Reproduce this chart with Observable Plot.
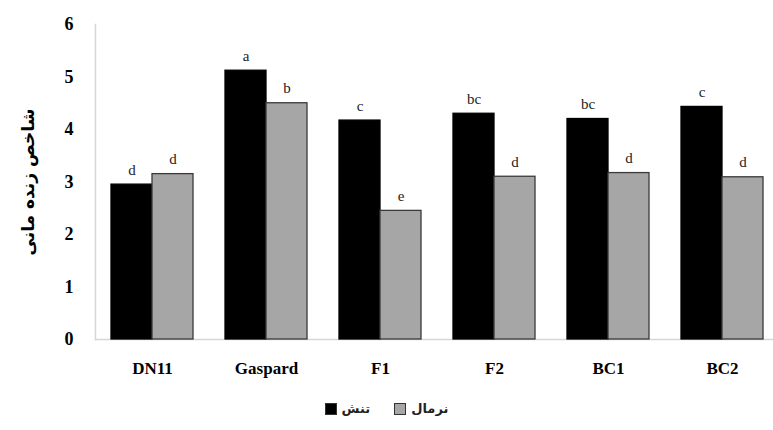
<!DOCTYPE html>
<html>
<head>
<meta charset="utf-8">
<script src="https://cdn.jsdelivr.net/npm/d3@7"></script>
<script src="https://cdn.jsdelivr.net/npm/@observablehq/plot@0.6"></script>
<style>
  html, body { margin: 0; padding: 0; background: #fff; }
  #chart { width: 773px; overflow: hidden; }
  .legend { display: flex; justify-content: center; align-items: center; gap: 0; margin-top: 11px; direction: ltr;
            font-family: "DejaVu Sans", sans-serif; font-size: 13px; font-weight: bold; color: #222; }
  .legend .sw { display: inline-block; width: 12px; height: 12px; box-sizing: border-box; border: 1px solid #333; margin-right: 5px; }
  .legend .item { display: flex; align-items: center; margin: 0 12px; }
</style>
</head>
<body>
<div id="chart"></div>
<script>
const categories = ["DN11", "Gaspard", "F1", "F2", "BC1", "BC2"];
const seriesNames = ["تنش", "نرمال"];
const stressValues = [2.95, 5.12, 4.17, 4.30, 4.20, 4.43];
const normalValues = [3.15, 4.50, 2.45, 3.10, 3.17, 3.09];
const stressLetters = ["d", "a", "c", "bc", "bc", "c"];
const normalLetters = ["d", "b", "e", "d", "d", "d"];
const yTicks = [0, 1, 2, 3, 4, 5, 6];
const yTitle = "شاخص زنده مانی";
const seriesColors = ["#000000", "#a6a6a6"];

const data = categories.flatMap((c, i) => [
  {cat: c, series: seriesNames[0], value: stressValues[i], letter: stressLetters[i]},
  {cat: c, series: seriesNames[1], value: normalValues[i], letter: normalLetters[i]}
]);

const plot = Plot.plot({
  width: 773,
  height: 390,
  marginLeft: 92,
  marginRight: 0,
  marginTop: 24,
  marginBottom: 51,
  style: {fontFamily: "'Liberation Serif', 'Times New Roman', serif", background: "#fff", color: "#000", overflow: "hidden"},
  fx: {domain: categories, range: [92, 781], padding: 0, label: null},
  x: {domain: seriesNames, paddingInner: 0, paddingOuter: 0.367, axis: null},
  y: {domain: [0, 6], label: null},
  color: {domain: seriesNames, range: seriesColors},
  marks: [
    Plot.frame({anchor: "left", stroke: "#d6d6d6", strokeWidth: 1.5, facet: "super"}),
    Plot.frame({anchor: "bottom", stroke: "#d6d6d6", strokeWidth: 1.5, facet: "super"}),
    Plot.barY(data, {fx: "cat", x: "series", y: "value", fill: "series",
      stroke: d => d.series === seriesNames[0] ? "#000" : "#3a3a3a", strokeWidth: 1.3}),
    Plot.text(data, {fx: "cat", x: "series", y: "value", text: "letter", lineAnchor: "bottom", dy: -10, fontSize: 15, fill: "#222"}),
    Plot.axisFx({anchor: "bottom", tickSize: 0, tickPadding: 22, fontSize: 17, fontWeight: "bold", label: null}),
    Plot.axisY({ticks: yTicks, tickFormat: "d", tickSize: 0, tickPadding: 22, fontSize: 18, fontWeight: "bold", label: null}),
    Plot.axisY({ticks: [], tickSize: 0, label: yTitle, labelAnchor: "center", labelArrow: "none", labelOffset: 74,
      fontSize: 17, fontWeight: "bold", fontFamily: "'DejaVu Sans', sans-serif"})
  ]
});
document.getElementById("chart").appendChild(plot);

const legend = document.createElement("div");
legend.className = "legend";
seriesNames.forEach((s, i) => {
  const item = document.createElement("span");
  item.className = "item";
  const sw = document.createElement("span");
  sw.className = "sw";
  sw.style.background = seriesColors[i];
  const t = document.createElement("span");
  t.textContent = s;
  item.appendChild(sw);
  item.appendChild(t);
  legend.appendChild(item);
});
document.getElementById("chart").appendChild(legend);
</script>
</body>
</html>
